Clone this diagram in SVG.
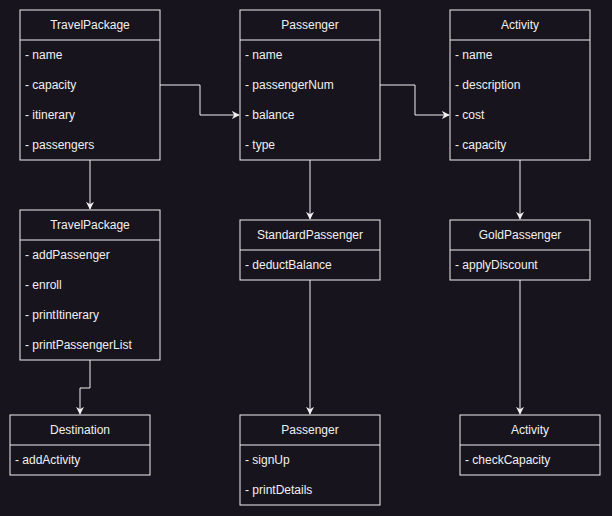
<svg xmlns="http://www.w3.org/2000/svg" width="612" height="516" viewBox="0 0 612 516">
<defs>
<marker id="arr" viewBox="0 0 10 10" refX="9" refY="5" markerWidth="8" markerHeight="8" markerUnits="userSpaceOnUse" orient="auto">
<path d="M0,0 L10,5 L0,10 L3,5 Z" fill="#f0f0f0"/>
</marker>
<style>
.box{fill:#18141d;stroke:#f0f0f0;stroke-width:1}
.sep{stroke:#f0f0f0;stroke-width:1}
.t{font-family:"Liberation Sans",Arial,sans-serif;font-size:12px;fill:#f0f0f0}
.h{text-anchor:middle}
.c{fill:none;stroke:#f0f0f0;stroke-width:1}
</style>
</defs>
<rect width="612" height="516" fill="#18141d"/>
<g id="connectors">
<path class="c" d="M160,85 H200 V115 H239" marker-end="url(#arr)"/>
<path class="c" d="M380,85 H415 V115 H449" marker-end="url(#arr)"/>
<path class="c" d="M90,160 V209" marker-end="url(#arr)"/>
<path class="c" d="M90,360 V388 H80 V414" marker-end="url(#arr)"/>
<path class="c" d="M310,160 V219" marker-end="url(#arr)"/>
<path class="c" d="M310,280 V414" marker-end="url(#arr)"/>
<path class="c" d="M520,160 V219" marker-end="url(#arr)"/>
<path class="c" d="M520,280 V414" marker-end="url(#arr)"/>
</g>
<g id="travelpackage1">
<rect class="box" x="20" y="10" width="140" height="150"/>
<line class="sep" x1="20" y1="40" x2="160" y2="40"/>
<text class="t h" x="90" y="29">TravelPackage</text>
<text class="t" x="25" y="59">- name</text>
<text class="t" x="25" y="89">- capacity</text>
<text class="t" x="25" y="119">- itinerary</text>
<text class="t" x="25" y="149">- passengers</text>
</g>
<g id="passenger1">
<rect class="box" x="240" y="10" width="140" height="150"/>
<line class="sep" x1="240" y1="40" x2="380" y2="40"/>
<text class="t h" x="310" y="29">Passenger</text>
<text class="t" x="245" y="59">- name</text>
<text class="t" x="245" y="89">- passengerNum</text>
<text class="t" x="245" y="119">- balance</text>
<text class="t" x="245" y="149">- type</text>
</g>
<g id="activity1">
<rect class="box" x="450" y="10" width="140" height="150"/>
<line class="sep" x1="450" y1="40" x2="590" y2="40"/>
<text class="t h" x="520" y="29">Activity</text>
<text class="t" x="455" y="59">- name</text>
<text class="t" x="455" y="89">- description</text>
<text class="t" x="455" y="119">- cost</text>
<text class="t" x="455" y="149">- capacity</text>
</g>
<g id="travelpackage2">
<rect class="box" x="20" y="210" width="140" height="150"/>
<line class="sep" x1="20" y1="240" x2="160" y2="240"/>
<text class="t h" x="90" y="229">TravelPackage</text>
<text class="t" x="25" y="259">- addPassenger</text>
<text class="t" x="25" y="289">- enroll</text>
<text class="t" x="25" y="319">- printItinerary</text>
<text class="t" x="25" y="349">- printPassengerList</text>
</g>
<g id="standardpassenger">
<rect class="box" x="240" y="220" width="140" height="60"/>
<line class="sep" x1="240" y1="250" x2="380" y2="250"/>
<text class="t h" x="310" y="239">StandardPassenger</text>
<text class="t" x="245" y="269">- deductBalance</text>
</g>
<g id="goldpassenger">
<rect class="box" x="450" y="220" width="140" height="60"/>
<line class="sep" x1="450" y1="250" x2="590" y2="250"/>
<text class="t h" x="520" y="239">GoldPassenger</text>
<text class="t" x="455" y="269">- applyDiscount</text>
</g>
<g id="destination">
<rect class="box" x="10" y="415" width="140" height="60"/>
<line class="sep" x1="10" y1="445" x2="150" y2="445"/>
<text class="t h" x="80" y="434">Destination</text>
<text class="t" x="15" y="464">- addActivity</text>
</g>
<g id="passenger2">
<rect class="box" x="240" y="415" width="140" height="90"/>
<line class="sep" x1="240" y1="445" x2="380" y2="445"/>
<text class="t h" x="310" y="434">Passenger</text>
<text class="t" x="245" y="464">- signUp</text>
<text class="t" x="245" y="494">- printDetails</text>
</g>
<g id="activity2">
<rect class="box" x="460" y="415" width="140" height="60"/>
<line class="sep" x1="460" y1="445" x2="600" y2="445"/>
<text class="t h" x="530" y="434">Activity</text>
<text class="t" x="465" y="464">- checkCapacity</text>
</g>
</svg>
